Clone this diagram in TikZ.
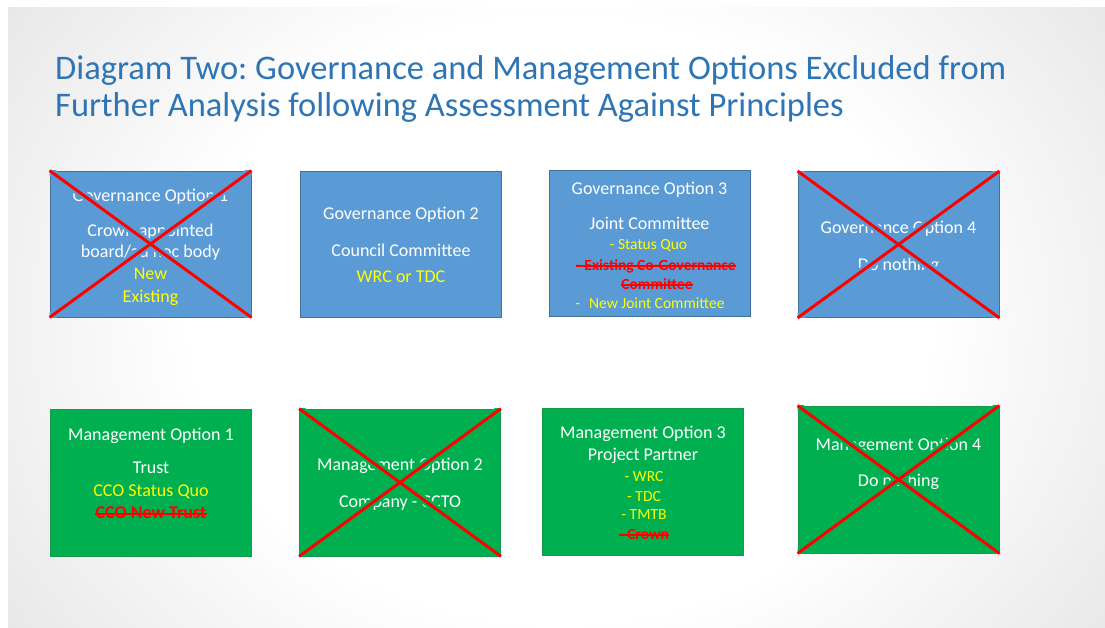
\documentclass[tikz,border=0pt]{standalone}
\usepackage{fontspec}
\setmainfont{Carlito}
\frenchspacing

\definecolor{govblue}{HTML}{5B9BD5}
\definecolor{govedge}{HTML}{41719C}
\definecolor{mgtgreen}{HTML}{00B050}
\definecolor{mgtedge}{HTML}{169A4A}
\definecolor{titleblue}{HTML}{2E75B6}
\definecolor{noteyellow}{HTML}{FFFF00}
\definecolor{dropred}{HTML}{FF0000}
\definecolor{slidegrey}{HTML}{B6B6B6}

% soft white centre fading to grey towards the slide corners
\pgfdeclareradialshading{slidebg}{\pgfpoint{0bp}{0bp}}{color(0bp)=(white); color(14bp)=(white); color(50bp)=(slidegrey)}

% red cross over a rejected option, with a halo of the box colour
\newcommand{\rejectbox}[2]{%
  \begin{scope}
    \clip (#1.south west) rectangle (#1.north east);
    \draw[line width=8pt,#2] (#1.north west) -- (#1.south east)
                             (#1.south west) -- (#1.north east);
  \end{scope}
  \draw[crossline] (#1.north west) -- (#1.south east)
                   (#1.south west) -- (#1.north east);}

% strike-through line across a text node
\newcommand{\strikenode}[1]{%
  \draw[strikeline] ([yshift=-1pt]#1.west) -- ([yshift=-1pt]#1.east);}

\begin{document}
\begin{tikzpicture}[x=1pt,y=-1pt,
  govbox/.style={draw=govedge,fill=govblue,line width=0.8pt,inner sep=0pt,
                 minimum width=201pt,minimum height=146pt},
  mgtbox/.style={draw=mgtedge,fill=mgtgreen,line width=0.8pt,inner sep=0pt,
                 minimum width=201pt,minimum height=147pt},
  crossline/.style={draw=dropred,line width=3pt},
  strikeline/.style={draw=dropred,line width=1.3pt},
  hd/.style={text=white,font=\fontsize{18}{20}\selectfont,inner sep=0pt,
             text height=11.6pt,text depth=0pt},
  yl/.style={hd,text=noteyellow},
  ylsm/.style={text=noteyellow,font=\fontsize{15.5}{18}\selectfont,inner sep=0pt,
               text height=10pt,text depth=0pt},
  rd/.style={hd,text=dropred,font=\fontsize{18}{20}\selectfont\bfseries},
  rdsm/.style={ylsm,text=dropred,font=\fontsize{15.5}{18}\selectfont\bfseries},
  titletext/.style={text=titleblue,font=\fontsize{34.5}{38}\selectfont,inner sep=0pt,anchor=base west}]

\useasboundingbox (0,0) rectangle (1105,628);
\fill[white] (0,0) rectangle (1105,628);
\begin{scope}
  \clip (8,8) rectangle (1105,628);
  \shade[shading=slidebg] (-100,-220) rectangle (1220,860);
\end{scope}

% title
\node[titletext] (title1) at (55,80) {Diagram Two: Governance and Management Options Excluded from};
\node[titletext] (title2) at (55,117) {Further Analysis following Assessment Against Principles};

% governance options
\node[govbox] (g1) at (150.5,244) {};
\node[govbox] (g2) at (401,244) {};
\node[govbox] (g3) at (649.5,243.5) {};
\node[govbox] (g4) at (898.5,244.5) {};

% management options
\node[mgtbox] (m1) at (151,482.5) {};
\node[mgtbox] (m2) at (400,482.5) {};
\node[mgtbox] (m3) at (643,482) {};
\node[mgtbox] (m4) at (898.5,479.5) {};

% governance option 1
\node[hd] (g1a) at (150.5,196) {Governance Option 1};
\node[hd] (g1b) at (150.5,231) {Crown appointed};
\node[hd] (g1c) at (150.5,252) {board/ad hoc body};
\node[yl] (g1d) at (150.5,274) {New};
\node[yl] (g1e) at (150.5,297) {Existing};

% governance option 2
\node[hd] (g2a) at (401,214) {Governance Option 2};
\node[hd] (g2b) at (401,251) {Council Committee};
\node[yl] (g2c) at (401,277) {WRC or TDC};

% governance option 3
\node[hd] (g3a) at (649.5,189) {Governance Option 3};
\node[hd] (g3b) at (649.5,224) {Joint Committee};
\node[ylsm] (g3c) at (648.5,245) {- Status Quo};
\node[rdsm] (g3d) at (656,265) {- Existing Co-Governance};
\node[rdsm] (g3e) at (657,284) {Committee};
\node[ylsm] (g3f) at (650,303) {-\hspace{9pt}New Joint Committee};
\strikenode{g3d}
\strikenode{g3e}

% governance option 4
\node[hd] (g4a) at (898.5,228) {Governance Option 4};
\node[hd] (g4b) at (898.5,265) {Do nothing};

% management option 1
\node[hd] (m1a) at (151,435) {Management Option 1};
\node[hd] (m1b) at (151,468) {Trust};
\node[yl] (m1c) at (151,491) {CCO Status Quo};
\node[rd] (m1d) at (151,513) {CCO New Trust};
\strikenode{m1d}

% management option 2
\node[hd] (m2a) at (400,465) {Management Option 2};
\node[hd] (m2b) at (400,502) {Company - CCTO};

% management option 3
\node[hd] (m3a) at (643,433) {Management Option 3};
\node[hd] (m3b) at (643,455) {Project Partner};
\node[ylsm] (m3c) at (644,476) {- WRC};
\node[ylsm] (m3d) at (644,496) {- TDC};
\node[ylsm] (m3e) at (644,514) {- TMTB};
\node[rdsm] (m3f) at (644,534) {- Crown};
\strikenode{m3f}

% management option 4
\node[hd] (m4a) at (898.5,445) {Management Option 4};
\node[hd] (m4b) at (898.5,481) {Do nothing};

% rejected options
\rejectbox{g1}{govblue}
\rejectbox{g4}{govblue}
\rejectbox{m2}{mgtgreen}
\rejectbox{m4}{mgtgreen}

\end{tikzpicture}
\end{document}
